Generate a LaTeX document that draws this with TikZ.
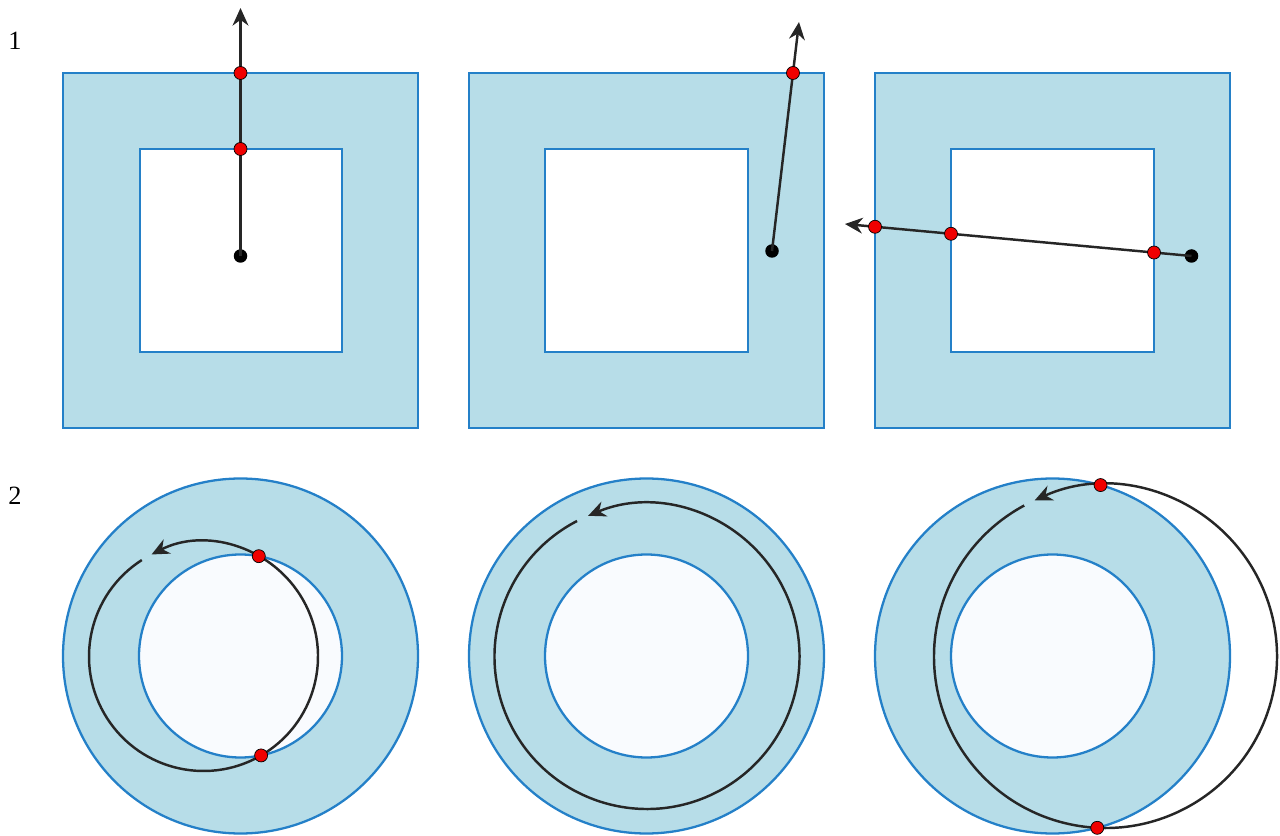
\documentclass[tikz,border=0pt]{standalone}
\usepackage{fontspec}
\setmainfont{Liberation Serif}
\usetikzlibrary{arrows.meta,calc,intersections}
\definecolor{ringfill}{RGB}{183,221,232}
\definecolor{ringline}{RGB}{36,128,200}
\definecolor{holefill}{RGB}{249,251,254}
\definecolor{hitred}{RGB}{240,0,0}
\tikzset{
  ring/.style={fill=ringfill,draw=ringline,line width=1.3pt},
  hole/.style={fill=white,draw=ringline,line width=1.3pt},
  choleshape/.style={fill=holefill,draw=ringline,line width=1.3pt},
  ray/.style={draw=black!85,line width=1.4pt,-{Stealth[length=10pt,width=9pt]}},
  loop/.style={draw=black!85,line width=1.4pt,-{Stealth[length=10pt,width=9pt]}},
  hit/.style={circle,fill=hitred,draw=black,line width=0.4pt,inner sep=0pt,minimum size=0.26cm},
  origin/.style={circle,fill=black,inner sep=0pt,minimum size=0.27cm},
  rowlabel/.style={font=\fontsize{15}{18}\selectfont,inner sep=0pt}
}
\begin{document}
\begin{tikzpicture}[x=0.02cm,y=0.02cm]
\useasboundingbox (0,0) rectangle (1280,835);
% row labels
\node[rowlabel] (l1) at (15,794) {1};
\node[rowlabel] (l2) at (15,339.5) {2};
% ---------- row 1: squares
\draw[ring] (63,407) rectangle (418,762);
\draw[hole] (140,483) rectangle (342,686);
\draw[ring] (469,407) rectangle (824,762);
\draw[hole] (545,483) rectangle (748,686);
\draw[ring] (875,407) rectangle (1230,762);
\draw[hole] (951,483) rectangle (1154,686);
% ray 1
\coordinate (t1) at (240.5,827);
\node[origin] (o1) at (240.5,579) {};
\draw[ray] (o1.center) -- (t1);
\node[hit] (h1a) at (240.5,762) {};
\node[hit] (h1b) at (240.5,686) {};
% ray 2
\coordinate (t2) at (799,813);
\node[origin] (o2) at (772,584) {};
\draw[ray] (o2.center) -- (t2);
\node[hit] (h2a) at ($(o2.center)!{(762-584)/229}!(t2)$) {};
% ray 3
\coordinate (t3) at (845,611);
\node[origin] (o3) at (1191.5,579) {};
\draw[ray] (o3.center) -- (t3);
\node[hit] (h3a) at ($(o3.center)!{(1191.5-875)/346.5}!(t3)$) {};
\node[hit] (h3b) at ($(o3.center)!{(1191.5-951)/346.5}!(t3)$) {};
\node[hit] (h3c) at ($(o3.center)!{(1191.5-1154)/346.5}!(t3)$) {};
% ---------- row 2: rings
% ring 1
\coordinate (c1) at (240.5,179);
\draw[ring] (c1) circle[radius=177.5];
\draw[choleshape, name path=in1] (c1) circle[radius=101.5];
\coordinate (k1) at (203.5,178.5);
\path[name path=bk1] (k1) circle[radius=114.5];
\draw[loop] (k1) ++(122.6:114.5) arc[start angle=122.6, end angle=477, radius=114.5];
\path[name intersections={of=in1 and bk1, name=x1}];
\node[hit] (r1a) at (x1-1) {};
\node[hit] (r1b) at (x1-2) {};
% ring 2
\coordinate (c2) at (646.5,179);
\draw[ring] (c2) circle[radius=177.5];
\draw[choleshape] (c2) circle[radius=101.5];
\coordinate (k2) at (647,178.5);
\draw[loop] (k2) ++(117.3:152.5) arc[start angle=117.3, end angle=472.7, radius=152.5];
% ring 3
\coordinate (c3) at (1052.5,179);
\draw[ring, name path=out3] (c3) circle[radius=177.5];
\draw[choleshape] (c3) circle[radius=101.5];
\coordinate (k3) at (1105.5,178.5);
\path[name path=bk3] (k3) circle[radius=171.5];
\draw[loop] (k3) ++(118.3:171.5) arc[start angle=118.3, end angle=474.4, radius=171.5];
\path[name intersections={of=out3 and bk3, name=x3}];
\node[hit] (r3a) at (x3-1) {};
\node[hit] (r3b) at (x3-2) {};
\end{tikzpicture}
\end{document}
